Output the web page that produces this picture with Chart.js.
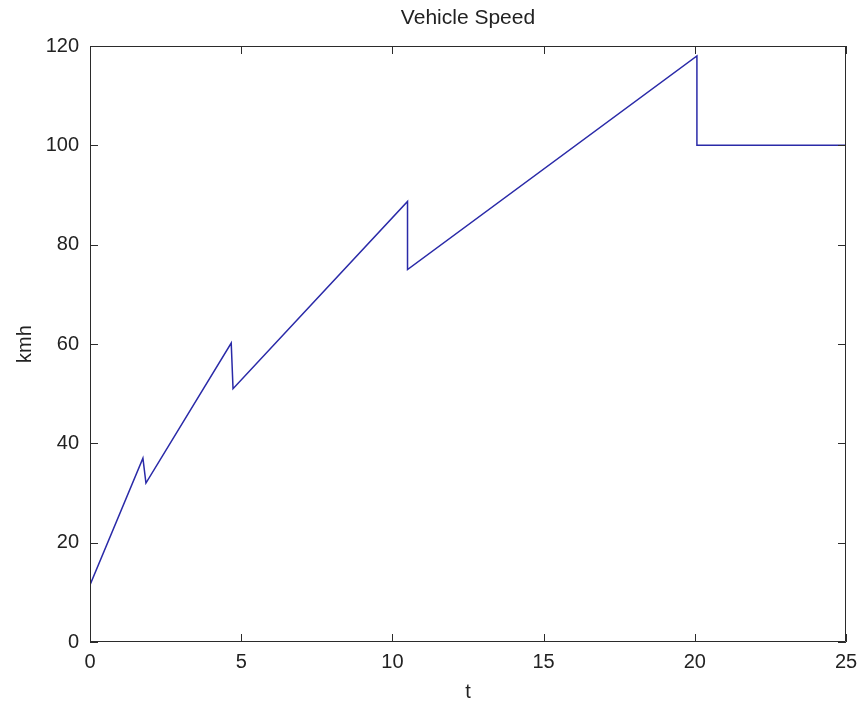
<!DOCTYPE html>
<html>
<head>
<meta charset="utf-8">
<script src="https://cdn.jsdelivr.net/npm/chart.js@4.4.1/dist/chart.umd.min.js"></script>
<style>
  html, body { margin: 0; padding: 0; background: #fff; }
  #wrap { width: 862px; height: 702px; }
</style>
</head>
<body>
<div id="wrap"><canvas id="speedChart" width="862" height="702"></canvas></div>
<script>
// waktu (t) dan kecepatan (kmh)
const timeValues = [0, 1.75, 1.85, 4.67, 4.73, 10.5, 10.5, 20.07, 20.07, 25];
const speedValues = [11.5, 37, 32, 60.2, 51, 88.7, 75, 118, 100, 100];
const xTicks = [0, 5, 10, 15, 20, 25];
const yTicks = [0, 20, 40, 60, 80, 100, 120];

const points = timeValues.map((t, i) => ({ x: t, y: speedValues[i] }));

const FONT = "'Liberation Sans', Arial, sans-serif";

// kotak dan tick ke dalam ala MATLAB
const boxTicks = {
  id: "boxTicks",
  afterDraw(chart) {
    const { ctx, chartArea: a, scales } = chart;
    const len = 8;
    ctx.save();
    ctx.strokeStyle = "#2b2b2b";
    ctx.lineWidth = 1;
    ctx.beginPath();
    ctx.rect(a.left + 0.5, a.top + 0.5, a.right - a.left - 1, a.bottom - a.top - 1);
    xTicks.forEach(v => {
      const x = Math.round(scales.x.getPixelForValue(v)) + 0.5;
      ctx.moveTo(x, a.bottom); ctx.lineTo(x, a.bottom - len);
      ctx.moveTo(x, a.top); ctx.lineTo(x, a.top + len);
    });
    yTicks.forEach(v => {
      const y = Math.round(scales.y.getPixelForValue(v)) + 0.5;
      ctx.moveTo(a.left, y); ctx.lineTo(a.left + len, y);
      ctx.moveTo(a.right, y); ctx.lineTo(a.right - len, y);
    });
    ctx.stroke();
    ctx.restore();
  }
};

new Chart(document.getElementById("speedChart"), {
  type: "scatter",
  data: {
    datasets: [{
      label: "Vehicle Speed",
      data: points,
      showLine: true,
      borderColor: "#2a2aa8",
      borderWidth: 1.5,
      pointRadius: 0,
      tension: 0,
      fill: false
    }]
  },
  options: {
    responsive: false,
    animation: false,
    layout: { padding: { left: 0, right: 16, top: 0, bottom: 0 } },
    plugins: {
      legend: { display: false },
      tooltip: { enabled: false },
      title: {
        display: true,
        fullSize: false,
        text: "Vehicle Speed",
        color: "#222",
        font: { family: FONT, size: 21, weight: "normal", lineHeight: 1.2 },
        padding: { top: 6, bottom: 14.8 }
      }
    },
    scales: {
      x: {
        type: "linear",
        min: 0,
        max: 25,
        afterFit: s => { s.height = 60; s.paddingLeft = 0; s.paddingRight = 0; },
        afterBuildTicks: s => { s.ticks = xTicks.map(v => ({ value: v })); },
        grid: { display: false, drawTicks: false },
        border: { display: false },
        ticks: {
          color: "#222",
          padding: 8,
          maxRotation: 0,
          font: { family: FONT, size: 20 }
        },
        title: {
          display: true,
          text: "t",
          color: "#222",
          font: { family: FONT, size: 20, lineHeight: 1 },
          padding: { top: 0, bottom: 0 }
        }
      },
      y: {
        type: "linear",
        min: 0,
        max: 120,
        afterFit: s => { s.width = 90; s.paddingTop = 0; s.paddingBottom = 0; },
        afterBuildTicks: s => { s.ticks = yTicks.map(v => ({ value: v })); },
        grid: { display: false, drawTicks: false },
        border: { display: false },
        ticks: {
          color: "#222",
          padding: 11,
          font: { family: FONT, size: 20 }
        },
        title: {
          display: true,
          text: "kmh",
          color: "#222",
          font: { family: FONT, size: 20, lineHeight: 1 },
          padding: { top: 15, bottom: 0 }
        }
      }
    }
  },
  plugins: [boxTicks]
});
</script>
</body>
</html>
